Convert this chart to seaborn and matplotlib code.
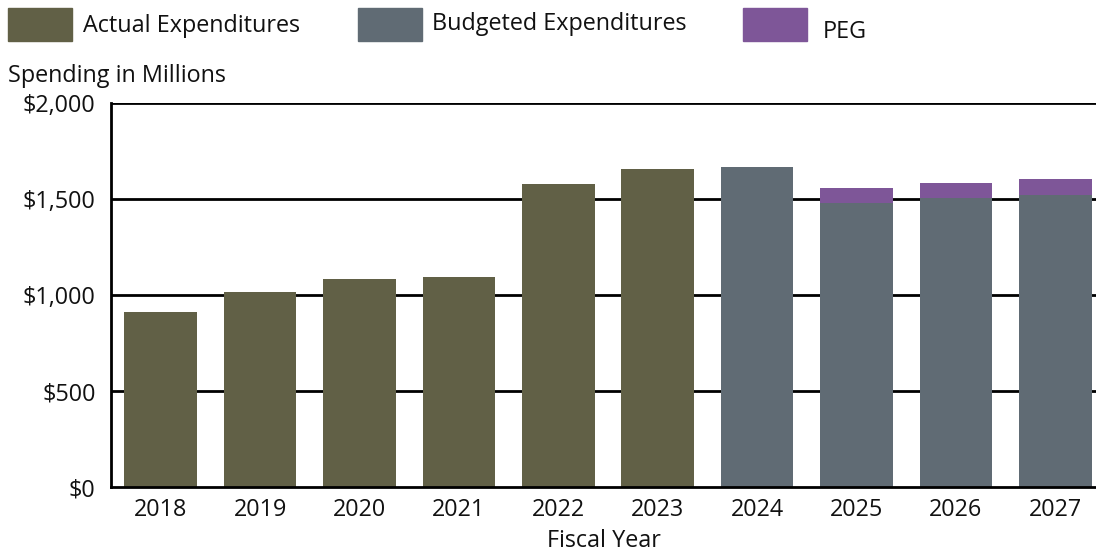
import pandas as pd
import numpy as np
import matplotlib.pyplot as plt
import matplotlib.patches as mpatches
import seaborn as sns

# values (millions of dollars)
years = ['2018', '2019', '2020', '2021', '2022', '2023', '2024', '2025', '2026', '2027']
actual = [911, 1014, 1083, 1094, 1578, 1656, 0, 0, 0, 0]
budget = [0, 0, 0, 0, 0, 0, 1668, 1479, 1505, 1522]
peg = [0, 0, 0, 0, 0, 0, 0, 80, 80, 82]
yticks = [0, 500, 1000, 1500, 2000]
ytick_labels = ['$0', '$500', '$1,000', '$1,500', '$2,000']
legend_labels = ['Actual Expenditures', 'Budgeted Expenditures', 'PEG']

olive = '#616046'
grey = '#606B74'
purple = '#7E5698'
fs = 16.8

df = pd.DataFrame({'year': years, 'actual': actual, 'budget': budget, 'peg': peg})
df['total'] = df['budget'] + df['peg']

sns.set_style('white')
plt.rcParams['font.family'] = ['Open Sans', 'DejaVu Sans']

fig = plt.figure(figsize=(10.96, 5.56), dpi=100)
ax = fig.add_axes([111 / 1096, 1 - 487 / 556, 1 - 111 / 1096, (487 - 103) / 556])

kw = dict(x='year', width=0.73, saturation=1, linewidth=0, zorder=3, ax=ax)
sns.barplot(data=df, y='total', color=purple, **kw)
sns.barplot(data=df, y='budget', color=grey, **kw)
sns.barplot(data=df, y='actual', color=olive, **kw)

ax.set_ylim(0, 2000)
ax.set_xlim(-0.5, 9.41)
ax.set_yticks(yticks)
ax.set_yticklabels(ytick_labels)
for y in yticks[1:]:
    ax.axhline(y, color='black', lw=2, zorder=1)

ax.set_xticks(np.arange(len(years)))
ax.set_xticklabels(years)
ax.set_xticks(np.arange(len(years) - 1) + 0.5, minor=True)
ax.tick_params(axis='x', which='major', length=0, pad=8, labelsize=fs)
ax.tick_params(axis='x', which='minor', length=8, width=2, color='black', direction='out')
ax.tick_params(axis='y', length=0, pad=11, labelsize=fs)
for lab in ax.get_yticklabels() + ax.get_xticklabels():
    lab.set_color('#111111')

for s in ['top', 'right']:
    ax.spines[s].set_visible(False)
for s in ['left', 'bottom']:
    ax.spines[s].set_color('black')
    ax.spines[s].set_linewidth(2)
    ax.spines[s].set_zorder(4)

ax.set_xlabel('Fiscal Year', fontsize=fs, color='#111111', labelpad=5)
ax.set_ylabel('')

fig.text(8 / 1096, 1 - 76 / 556, 'Spending in Millions', fontsize=fs,
         va='center', ha='left', color='#111111')

# legend along the top
W, H = 1096, 556
for px, tx, ty, lab, col in zip([8, 358, 743], [83, 432, 823], [26, 24, 32],
                                legend_labels, [olive, grey, purple]):
    fig.patches.append(mpatches.Rectangle((px / W, 1 - 41 / H), 64 / W, 33 / H,
                                          transform=fig.transFigure, color=col))
    fig.text(tx / W, 1 - ty / H, lab, fontsize=fs, va='center', ha='left', color='#111111')

fig.savefig('out.png', dpi=100)
